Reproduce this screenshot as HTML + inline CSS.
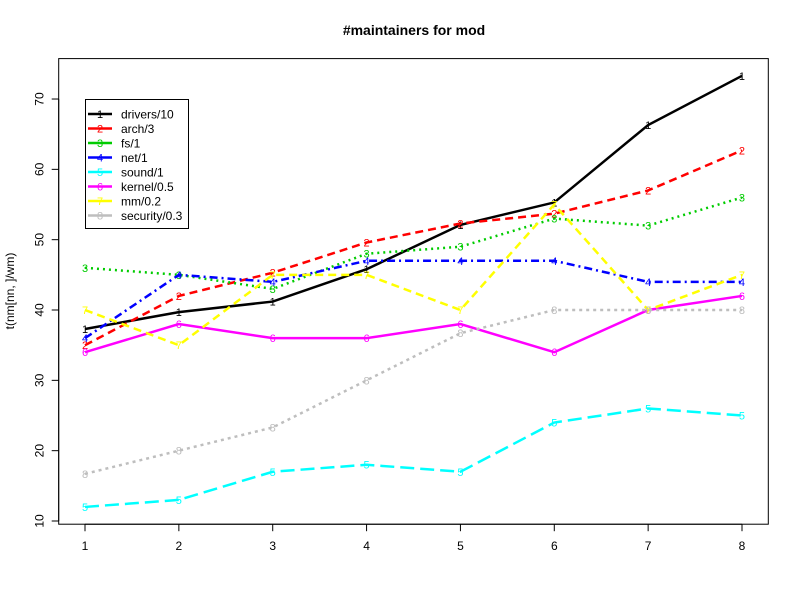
<!DOCTYPE html>
<html><head><meta charset="utf-8"><style>body{margin:0;background:#fff}svg{display:block}text{font-family:"Liberation Sans",sans-serif}</style></head>
<body>
<svg id="chart" width="800" height="600">
<text x="414" y="35" text-anchor="middle" font-size="14" font-weight="bold">#maintainers for mod</text>
<text transform="translate(14,291) rotate(-90)" text-anchor="middle" font-size="12">t(nm[nn, ]/wm)</text>
</svg>
<script>
const xCats = [1,2,3,4,5,6,7,8];
const yTicks = [10,20,30,40,50,60,70];
const seriesNames = ["drivers/10","arch/3","fs/1","net/1","sound/1","kernel/0.5","mm/0.2","security/0.3"];
const drivers = [37.3,39.7,41.2,45.8,52.1,55.3,66.3,73.3];
const arch = [35,42,45.3,49.6,52.3,53.7,57,62.7];
const fs = [46,45,43,48,49,53,52,56];
const net = [36,45,44,47,47,47,44,44];
const sound = [12,13,17,18,17,24,26,25];
const kernel = [34,38,36,36,38,34,40,42];
const mm = [40,35,45,45,40,55,40,45];
const security = [16.7,20,23.3,30,36.7,40,40,40];
const allSeries = [drivers,arch,fs,net,sound,kernel,mm,security];
const colors = ["#000","#f00","#0c0","#00f","#0ff","#f0f","#ff0","#bebebe"];
const dashes = ["","8,5","2,4","8,4,2,4","14,6","","8,5","3,4"];
const svg = document.getElementById('chart');
const NS = "http://www.w3.org/2000/svg";
const L=58.7,R=768.3,T=58.6,B=524.2;
const x = v => 85 + (v-1)*93.857;
const y = v => 521 - (v-10)*7.033;
function mk(tag, attrs){const e=document.createElementNS(NS,tag);for(const k in attrs)e.setAttribute(k,attrs[k]);svg.appendChild(e);return e;}
const box = mk('rect',{x:L,y:T,width:R-L,height:B-T,fill:'none',stroke:'#000'});


xCats.forEach(c=>{
  const t=mk('line',{x1:x(c),x2:x(c),y1:B,y2:B+7,stroke:'#000'});
  
  
  const l=mk('text',{x:x(c),y:B+26,'text-anchor':'middle','font-size':12});
  l.textContent=c;
  
  
});
mk('line',{x1:x(1),x2:x(8),y1:B,y2:B,stroke:'#000'});
yTicks.forEach(v=>{
  const t=mk('line',{x1:L-7,x2:L,y1:y(v),y2:y(v),stroke:'#000'});
  
  
  const l=mk('text',{x:0,y:0,'text-anchor':'middle','font-size':12,transform:`translate(${L-15},${y(v)}) rotate(-90)`});
  l.textContent=v;
  
  
});
mk('line',{x1:L,x2:L,y1:y(10),y2:y(70),stroke:'#000'});
allSeries.forEach((s,i)=>{
  const p=mk('polyline',{points:s.map((v,j)=>x(xCats[j])+','+y(v)).join(' '),fill:'none',stroke:colors[i],'stroke-width':2.5,'stroke-dasharray':dashes[i]});
  
  
  s.forEach((v,j)=>{
    const m=mk('text',{x:x(xCats[j]),y:y(v)+4,'text-anchor':'middle','font-size':11,fill:colors[i]});
    m.textContent=i+1;
    
    
  });
});
const lg=mk('rect',{x:85.5,y:99.5,width:103,height:129,fill:'#fff',stroke:'#000'});


seriesNames.forEach((n,i)=>{
  const yy=114+i*14.5;
  const ln=mk('line',{x1:88,x2:112,y1:yy,y2:yy,stroke:colors[i],'stroke-width':2.5});
  
  
  const m=mk('text',{x:100,y:yy+4,'text-anchor':'middle','font-size':11,fill:colors[i]});
  m.textContent=i+1;
  const t=mk('text',{x:121,y:yy+4.5,'font-size':12});
  t.textContent=n;
  
  
});
</script>
</body></html>
